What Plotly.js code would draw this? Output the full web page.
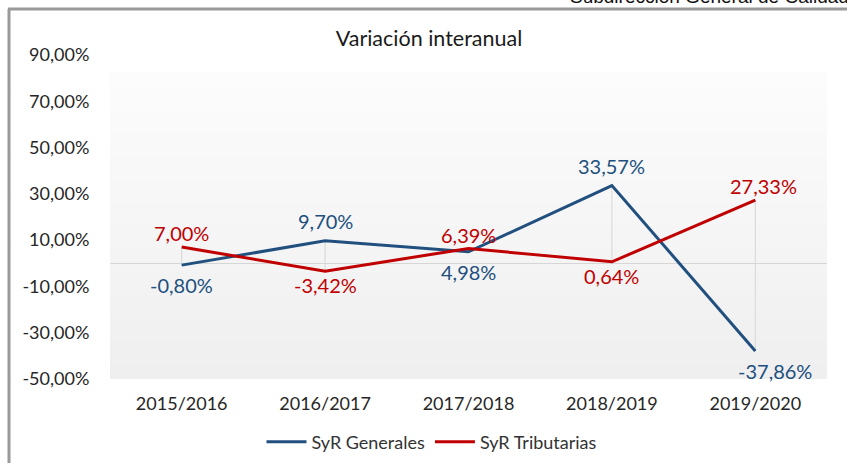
<!DOCTYPE html>
<html><head><meta charset="utf-8">
<script src="https://cdn.plot.ly/plotly-3.0.1.min.js"></script>
<style>html,body{margin:0;padding:0;background:#fff;}#chart{width:847px;height:463px;}</style>
</head><body><div id="chart"></div>
<script>
// ---- data ----
const categories = ['2015/2016', '2016/2017', '2017/2018', '2018/2019', '2019/2020'];
const generales = [-0.80, 9.70, 4.98, 33.57, -37.86];
const tributarias = [7.00, -3.42, 6.39, 0.64, 27.33];
const seriesNames = ['SyR Generales', 'SyR Tributarias'];
const yTickVals = [-50, -30, -10, 10, 30, 50, 70, 90];
const chartTitle = 'Variación interanual';
const headerText = 'Subdirección General de Calidad';

// ---- style ----
const colors = ['#21507f', '#c00000'];
const labelGap = [20, 14];
const lastLabelShiftX = [20, 8];
const fontFam = 'Lato, "Open Sans", sans-serif';

const fmt = v => v.toFixed(2).replace('.', ',') + '%';
const series = [generales, tributarias];

// high-low lines
const hlX = [], hlY = [];
categories.forEach((c, i) => {
  const vals = series.map(s => s[i]);
  hlX.push(c, c, null);
  hlY.push(Math.max(...vals), Math.min(...vals), null);
});

const traces = [{
  x: hlX, y: hlY, mode: 'lines', type: 'scatter',
  line: {color: '#d6d6d6', width: 1}, showlegend: false, hoverinfo: 'skip'
}];
series.forEach((s, k) => {
  traces.push({
    x: categories, y: s, name: seriesNames[k], type: 'scatter', mode: 'lines',
    line: {color: colors[k], width: 3}
  });
});

// data labels
const annotations = [];
series.forEach((s, k) => {
  s.forEach((v, i) => {
    const other = series[1 - k][i];
    const above = v >= other;
    annotations.push({
      x: categories[i], y: v, xref: 'x', yref: 'y', text: fmt(v), showarrow: false,
      yshift: above ? labelGap[k] : -labelGap[k],
      xshift: i === categories.length - 1 ? lastLabelShiftX[k] : 0,
      yanchor: 'middle', xanchor: 'center',
      font: {family: fontFam, size: 20, color: colors[k]}
    });
  });
});
// cut-off header text at top
annotations.push({
  text: headerText, xref: 'paper', yref: 'paper', x: (568 - 110) / 717, y: (379 - 9) / 324,
  xanchor: 'left', yanchor: 'bottom', showarrow: false,
  font: {family: 'Liberation Sans, Arial, sans-serif', size: 19, color: '#111'}
});

// gradient plot background + frame
const shapes = [];
const N = 40, topP = (379 - 72) / 324;
for (let j = 0; j < N; j++) {
  const t = j / (N - 1);
  const c = Math.round(252 - 13 * t);
  shapes.push({
    type: 'rect', xref: 'paper', yref: 'paper', x0: 0, x1: 1,
    y0: topP * (1 - (j + 1) / N), y1: topP * (1 - j / N) + 0.001,
    fillcolor: `rgb(${c},${c},${c})`, line: {width: 0}, layer: 'below'
  });
}
const px = v => (v - 110) / 717, py = v => (379 - v) / 324;
shapes.push({type: 'line', xref: 'paper', yref: 'paper', x0: px(9), x1: px(9), y0: py(9), y1: py(470),
  line: {color: '#9a9a9a', width: 3}, layer: 'above'});
shapes.push({type: 'line', xref: 'paper', yref: 'paper', x0: px(8), x1: px(850), y0: py(9), y1: py(9),
  line: {color: '#9a9a9a', width: 3}, layer: 'above'});

const layout = {
  width: 847, height: 463,
  margin: {l: 110, r: 20, t: 55, b: 84, pad: 0, autoexpand: false},
  paper_bgcolor: '#ffffff', plot_bgcolor: 'rgba(0,0,0,0)',
  title: {text: chartTitle, x: 429 / 847, xanchor: 'center', y: 1 - 38 / 463, yanchor: 'middle',
    font: {family: fontFam, size: 21.5, color: '#1a1a1a'}},
  xaxis: {
    type: 'category', range: [-0.5, 4.5], showgrid: false, zeroline: false, showline: false,
    ticks: 'outside', ticklen: 8, tickcolor: 'rgba(0,0,0,0)',
    tickfont: {family: fontFam, size: 18, color: '#262626'}, fixedrange: true
  },
  yaxis: {
    range: [-50, 90], tickvals: yTickVals, ticktext: yTickVals.map(v => fmt(v)),
    showgrid: false, zeroline: true, zerolinecolor: '#d6d6d6', zerolinewidth: 1.5, showline: false,
    ticks: 'outside', ticklen: 16, tickcolor: 'rgba(0,0,0,0)',
    tickfont: {family: fontFam, size: 18, color: '#262626'}, fixedrange: true
  },
  showlegend: true,
  legend: {
    orientation: 'h', xref: 'container', yref: 'container', x: 432 / 847, xanchor: 'center',
    y: 1 - 442 / 463, yanchor: 'middle',
    font: {family: fontFam, size: 18, color: '#333'}, itemwidth: 40, traceorder: 'normal',
    bgcolor: 'rgba(0,0,0,0)'
  },
  annotations: annotations, shapes: shapes, hovermode: false
};

Plotly.newPlot('chart', traces, layout, {displayModeBar: false, staticPlot: true});
</script>
</body></html>
